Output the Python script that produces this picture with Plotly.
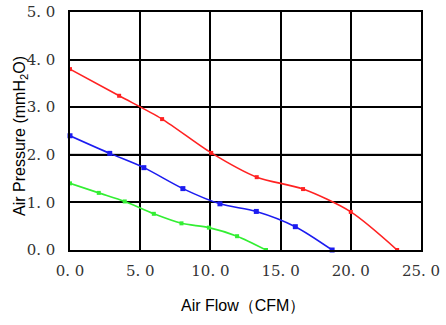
import plotly.graph_objects as go

# Fan P-Q curves at three speeds
red_flow = [0.0, 3.5, 6.56, 10.06, 13.3, 16.6, 20.0, 23.3]
red_pressure = [3.80, 3.24, 2.75, 2.04, 1.53, 1.28, 0.80, 0.0]

blue_flow = [0.0, 2.83, 5.26, 8.04, 10.68, 13.27, 16.05, 18.67]
blue_pressure = [2.40, 2.03, 1.73, 1.29, 0.97, 0.81, 0.49, 0.0]

green_flow = [0.0, 2.05, 3.9, 5.97, 7.94, 9.89, 11.9, 13.96]
green_pressure = [1.40, 1.20, 1.02, 0.76, 0.56, 0.47, 0.29, 0.0]

x_ticks = [0, 5, 10, 15, 20, 25]
x_tick_text = ["0. 0", "5. 0", "10. 0", "15. 0", "20. 0", "25. 0"]
y_ticks = [0, 1, 2, 3, 4, 5]
y_tick_text = ["0. 0", "1. 0", "2. 0", "3. 0", "4. 0", "5. 0"]

x_title = "Air Flow（CFM）"
y_title = "Air Pressure (mmH<sub>2</sub>O)"

fig = go.Figure()

series = [
    (red_flow, red_pressure, "#ff2222", 4),
    (blue_flow, blue_pressure, "#1c1cf0", 5),
    (green_flow, green_pressure, "#33ee33", 4),
]
for xs, ys, color, msize in series:
    fig.add_trace(go.Scatter(
        x=xs, y=ys, mode="lines+markers",
        line=dict(color=color, width=1.6, shape="spline", smoothing=0.8),
        marker=dict(color=color, size=msize, symbol="square"),
        showlegend=False, cliponaxis=False,
    ))

# darker emphasis on the 2.0 grid line
fig.add_shape(type="line", xref="x", yref="y", x0=0, x1=25, y0=2, y1=2,
              line=dict(color="#555555", width=2.2), layer="below")

# axis titles placed as annotations for exact positioning
title_font = dict(family="Liberation Sans", size=16, color="black")
fig.add_annotation(text=x_title, xref="paper", yref="paper", x=0.5, y=0,
                   xanchor="center", yanchor="middle", xshift=-3, yshift=-55,
                   showarrow=False, font=title_font)
fig.add_annotation(text=y_title, xref="paper", yref="paper", x=0, y=0.5,
                   xanchor="center", yanchor="middle", xshift=-50, yshift=-5,
                   textangle=-90, showarrow=False, font=title_font)

tick_font = dict(family="DejaVu Serif", size=15, color="#333333")

fig.update_layout(
    width=446, height=325,
    margin=dict(l=70, r=25, t=12, b=75),
    paper_bgcolor="white", plot_bgcolor="white",
    xaxis=dict(
        range=[0, 25], tickvals=x_ticks, ticktext=x_tick_text,
        showgrid=True, gridcolor="black", gridwidth=1.5,
        showline=True, linecolor="black", linewidth=1.5, mirror=True,
        zeroline=False, ticks="", tickfont=tick_font, ticklabelstandoff=6,
        automargin=False,
    ),
    yaxis=dict(
        range=[0, 5], tickvals=y_ticks, ticktext=y_tick_text,
        showgrid=True, gridcolor="black", gridwidth=1.5,
        showline=True, linecolor="black", linewidth=1.5, mirror=True,
        zeroline=False, ticks="", tickfont=tick_font, ticklabelstandoff=10,
        automargin=False,
    ),
)

fig.write_html("out.html")
